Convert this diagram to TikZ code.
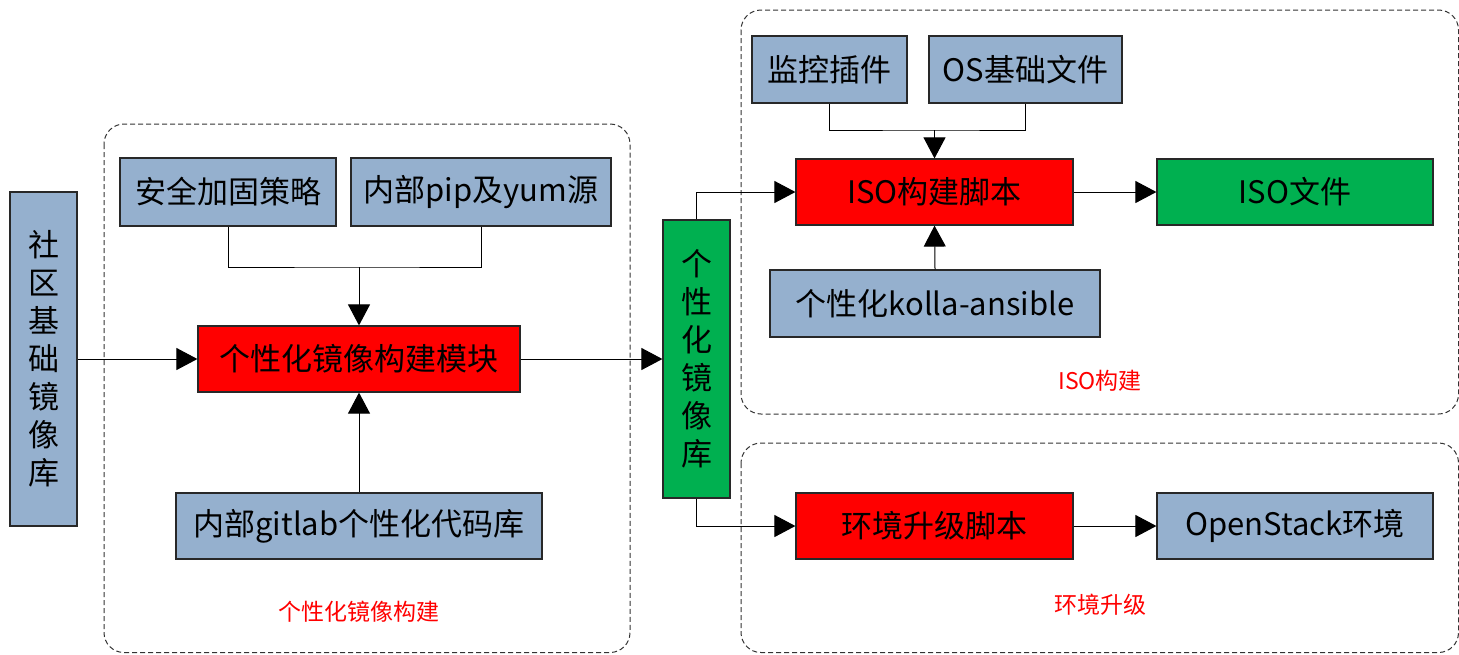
\documentclass[tikz,border=0pt]{standalone}
\usepackage{fontspec}
\setmainfont{Noto Sans CJK SC}
\usetikzlibrary{arrows.meta}
\definecolor{boxblue}{RGB}{149,176,206}
\definecolor{boxred}{RGB}{255,0,0}
\definecolor{boxgreen}{RGB}{0,176,80}
\definecolor{edge}{RGB}{40,40,40}
\begin{document}
\begin{tikzpicture}[x=0.5pt,y=-0.5pt,
  base/.style={draw=edge,line width=0.6pt,inner sep=0pt,align=center,
    font=\fontsize{15.5}{18}\selectfont},
  bluebox/.style={base,fill=boxblue},
  redbox/.style={base,fill=boxred},
  greenbox/.style={base,fill=boxgreen},
  grp/.style={draw=black!80,dash pattern=on 2.5pt off 1.5pt,line width=0.5pt,rounded corners=10pt},
  grplabel/.style={text=red,font=\fontsize{11.5}{14}\selectfont},
  link/.style={draw=black,line width=0.5pt},
  arr/.style={link,-{Triangle[length=10.5pt,width=11pt]}}]
\useasboundingbox (0,0) rectangle (1459,654);
% groups
\draw[grp] (104,124) rectangle (630,652.5);
\draw[grp] (741,10) rectangle (1458.5,414);
\draw[grp] (741,443) rectangle (1458.5,652.5);
\node[grplabel] (l1) at (359,612) {个性化镜像构建};
\node[grplabel] (l2) at (1100,381) {ISO构建};
\node[grplabel] (l3) at (1100,605) {环境升级};
% left part
\node[bluebox,minimum width=33.5pt,minimum height=167pt,
  font=\fontsize{15.5}{19}\selectfont] (src) at (43.5,359) {社\\区\\基\\础\\镜\\像\\库};
\node[bluebox,minimum width=108pt,minimum height=34pt] (sec) at (228,192) {安全加固策略};
\node[bluebox,minimum width=130pt,minimum height=34pt] (pip) at (481,192) {内部pip及yum源};
\node[redbox,minimum width=161pt,minimum height=33pt] (mod) at (359,359) {个性化镜像构建模块};
\node[bluebox,minimum width=183pt,minimum height=33pt] (git) at (359,526) {内部gitlab个性化代码库};
\node[greenbox,minimum width=33.5pt,minimum height=139pt,
  font=\fontsize{15.5}{19}\selectfont] (lib) at (696.5,359) {个\\性\\化\\镜\\像\\库};
% right part
\node[bluebox,minimum width=77.5pt,minimum height=33.5pt] (mon) at (829.5,69.5) {监控插件};
\node[bluebox,minimum width=96.5pt,minimum height=33.5pt] (os) at (1025.5,69.5) {OS基础文件};
\node[redbox,minimum width=138.5pt,minimum height=33pt] (iso) at (934.5,192) {ISO构建脚本};
\node[greenbox,minimum width=138pt,minimum height=33pt] (isof) at (1295,192) {ISO文件};
\node[bluebox,minimum width=165pt,minimum height=33.5pt] (kolla) at (935,303.5) {个性化kolla-ansible};
\node[redbox,minimum width=138.5pt,minimum height=33pt] (upg) at (934.5,526) {环境升级脚本};
\node[bluebox,minimum width=138pt,minimum height=33pt] (ostk) at (1295,526) {OpenStack环境};
% connectors
\coordinate (j1) at (359,267);
\coordinate (j2) at (934.5,130);
\draw[link] (sec.south) |- (j1) -| (pip.south);
\draw[arr] (j1) -- (mod.north);
\draw[arr] (git.north) -- (mod.south);
\draw[arr] (src.east) -- (mod.west);
\draw[arr] (mod.east) -- (lib.west);
\draw[arr] (lib.north) |- (iso.west);
\draw[arr] (lib.south) |- (upg.west);
\draw[link] (mon.south) |- (j2) -| (os.south);
\draw[arr] (j2) -- (iso.north);
\draw[arr] (kolla.north) -- (iso.south);
\draw[arr] (iso.east) -- (isof.west);
\draw[arr] (upg.east) -- (ostk.west);
\end{tikzpicture}
\end{document}
